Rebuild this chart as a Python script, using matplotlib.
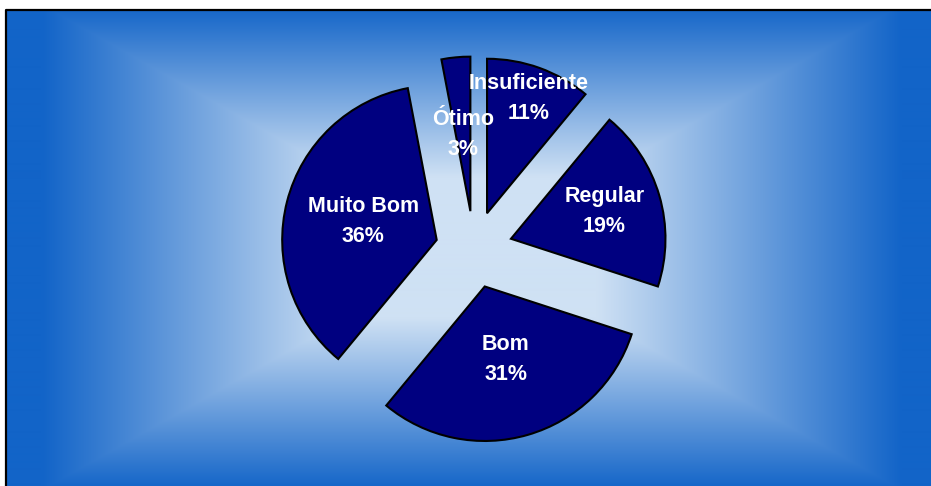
import numpy as np
import matplotlib
matplotlib.use("Agg")
import matplotlib.pyplot as plt

categories = ["Insuficiente", "Regular", "Bom", "Muito Bom", "Ótimo"]
values = [11, 19, 31, 36, 3]
pct_labels = ["11%", "19%", "31%", "36%", "3%"]

W, H = 931, 486
fig = plt.figure(figsize=(W / 100, H / 100), dpi=100)
fig.patch.set_facecolor("white")
ax = fig.add_axes([0, 0, 1, 1])

# rectangular "from centre" gradient background
x0, y0 = 6, 10  # frame left/top in pixels
xs = np.arange(x0, W) + 0.5
ys = np.arange(y0, H) + 0.5
X, Y = np.meshgrid(xs, ys)
cx, cy = 472.0, 248.0
hw, hh = 462.0, 260.0
t = np.maximum(np.abs(X - cx) / hw, np.abs(Y - cy) / hh)
f = np.clip((t - 0.27) / 0.66, 0, 1)[..., None]
edge = np.array([0x12, 0x64, 0xc8]) / 255
centre = np.array([0xcf, 0xe1, 0xf4]) / 255
img = centre * (1 - f) + edge * f
ax.imshow(img, extent=(x0, W, 0, H - y0), origin="upper", interpolation="bilinear", zorder=0)

# frame
ax.plot([x0, x0, W], [0, H - y0, H - y0], color="black", lw=1.6, zorder=1, solid_capstyle="butt")

R = 154.5
pie_c = (474.0, H - 249.5)
wedges, _ = ax.pie(values, explode=[38.5] * len(values), radius=R, center=pie_c,
                   startangle=90, counterclock=False, colors=["#000080"] * len(values),
                   wedgeprops=dict(edgecolor="black", linewidth=1.5, zorder=2))

label_r = [0.79, 0.63, 0.49, 0.49, 0.50]
for w, cat, pl, lr in zip(wedges, categories, pct_labels, label_r):
    ang = np.deg2rad((w.theta1 + w.theta2) / 2)
    lx = w.center[0] + lr * R * np.cos(ang)
    ly = w.center[1] + lr * R * np.sin(ang)
    kw = dict(ha="center", va="center", color="white", fontsize=15.5,
              fontweight="bold", family="Liberation Sans", zorder=3)
    ax.text(lx, ly + 15, cat, **kw)
    ax.text(lx, ly - 15, pl, **kw)

ax.set_xlim(0, W)
ax.set_ylim(0, H)
ax.set_aspect("auto")
ax.axis("off")
fig.savefig("out.png", dpi=100)
